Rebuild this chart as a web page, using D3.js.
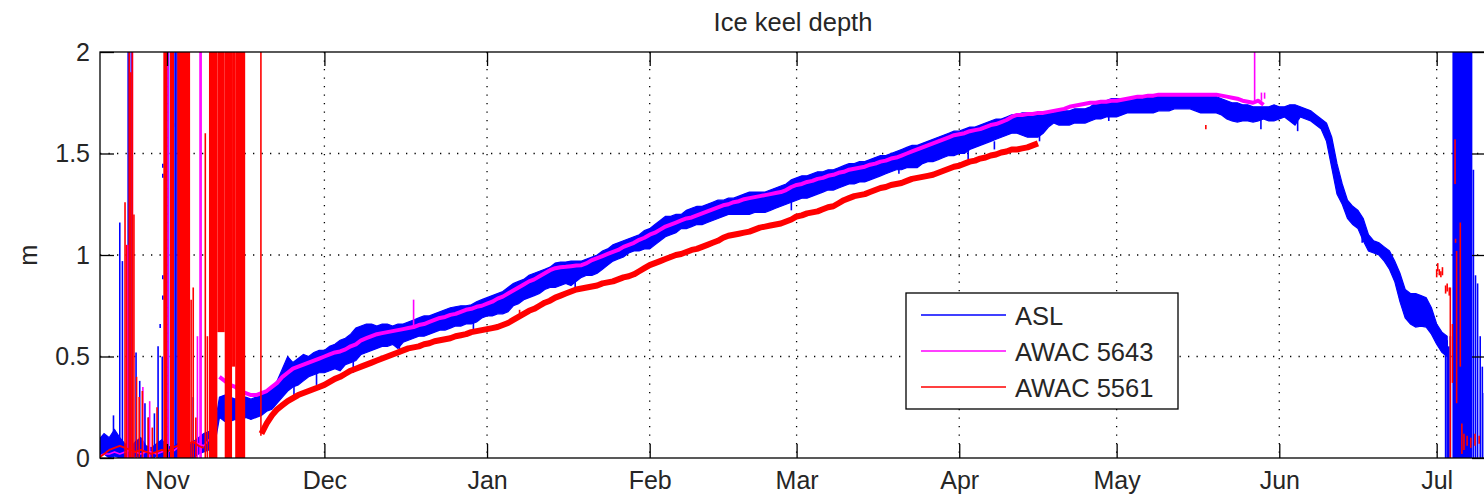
<!DOCTYPE html>
<html>
<head>
<meta charset="utf-8">
<script src="https://cdn.jsdelivr.net/npm/d3@7"></script>
<style>
  body { margin: 0; background: #fff; }
  text { font-family: "Liberation Sans", Arial, Helvetica, sans-serif; fill: #262626; }
</style>
</head>
<body>
<svg id="chart" width="1484" height="496"></svg>
<script>
// Day numbers count from 1 Nov 2010 (day 0). Daily arrays start at the day given beside them.
const viewStartDay = -12.77;
const viewEndDay = 251.4;

const monthTicks = ["2010-11-01", "2010-12-01", "2011-01-01", "2011-02-01", "2011-03-01",
                    "2011-04-01", "2011-05-01", "2011-06-01", "2011-07-01"];
const monthLabels = ["Nov", "Dec", "Jan", "Feb", "Mar", "Apr", "May", "Jun", "Jul"];
const depthTicks = [0, 0.5, 1, 1.5, 2];
const depthTickLabels = ["0", "0.5", "1", "1.5", "2"];
const seriesNames = ["ASL", "AWAC 5643", "AWAC 5561"];
const seriesColors = ["#0000ff", "#ff00ff", "#ff0000"];

// ASL: daily low / high of the keel depth (m), day -13 .. 244
const aslStart = -13;
const aslLo = [
  0.00,0.02,0.00,0.01,0.00,0.00,0.00,0.01,0.00,0.00,0.00,0.01,0.00,0.00,0.00,0.00,0.01,0.00,0.00,0.02,0.03,0.04,0.05,
  0.20,0.18,0.18,0.19,0.18,0.20,0.19,0.20,0.21,0.23,
  0.24,0.27,0.30,0.33,0.35,0.36,0.38,0.40,0.41,0.42,
  0.42,0.43,0.44,0.43,0.46,0.47,0.48,0.51,0.52,0.53,
  0.54,0.55,0.55,0.56,0.54,0.57,0.58,0.59,0.60,0.60,
  0.61,0.62,0.63,0.63,0.64,0.65,0.65,0.66,0.66,0.67,
  0.69,0.70,0.70,0.71,0.71,0.72,0.75,0.76,0.78,0.79,
  0.80,0.81,0.83,0.84,0.84,0.85,0.86,0.85,0.87,0.89,
  0.90,0.90,0.91,0.93,0.95,0.97,0.98,0.99,1.01,1.02,
  1.02,1.03,1.03,1.05,1.07,1.09,1.10,1.11,1.13,1.13,
  1.14,1.15,1.15,1.16,1.17,1.18,1.19,1.20,1.20,1.20,
  1.20,1.20,1.21,1.21,1.21,1.22,1.23,1.24,1.25,1.26,
  1.27,1.28,1.28,1.29,1.30,1.31,1.32,1.32,1.33,1.34,
  1.35,1.35,1.36,1.36,1.37,1.38,1.39,1.40,1.41,1.42,
  1.42,1.43,1.43,1.43,1.45,1.46,1.46,1.47,1.48,1.49,
  1.49,1.50,1.50,1.52,1.53,1.54,1.55,1.56,1.57,1.58,
  1.59,1.60,1.60,1.59,1.58,1.58,1.58,1.60,1.63,1.65,
  1.64,1.64,1.64,1.65,1.65,1.65,1.66,1.67,1.67,1.68,
  1.68,1.68,1.69,1.70,1.70,1.70,1.70,1.70,1.70,1.71,
  1.71,1.71,1.72,1.72,1.72,1.72,1.71,1.70,1.70,1.70,
  1.70,1.69,1.67,1.66,1.655,1.66,1.66,1.655,1.66,1.67,
  1.66,1.66,1.67,1.68,1.66,1.64,1.68,1.67,1.66,1.64,
  1.62,1.56,1.43,1.30,1.25,1.18,1.15,1.13,1.07,1.02,
  1.01,1.00,0.97,0.93,0.87,0.77,0.69,0.66,0.645,0.65,
  0.645,0.61,0.56,0.52,0.50
];
const aslHi = [
  0.09,0.12,0.10,0.14,0.10,0.07,0.05,0.08,0.10,0.06,0.05,0.07,0.09,0.06,0.05,0.07,0.09,0.06,0.08,0.10,0.12,0.13,0.14,
  0.30,0.31,0.30,0.29,0.30,0.30,0.29,0.30,0.31,0.33,
  0.35,0.38,0.44,0.50,0.47,0.49,0.51,0.50,0.52,0.53,
  0.53,0.55,0.56,0.58,0.59,0.61,0.64,0.65,0.66,0.66,
  0.65,0.66,0.66,0.65,0.66,0.66,0.67,0.68,0.69,0.70,
  0.70,0.71,0.72,0.73,0.74,0.745,0.75,0.75,0.755,0.77,
  0.78,0.79,0.80,0.81,0.82,0.84,0.86,0.87,0.88,0.90,
  0.91,0.92,0.93,0.94,0.96,0.965,0.965,0.97,0.97,0.97,
  0.98,0.99,1.00,1.02,1.03,1.05,1.06,1.07,1.08,1.09,
  1.10,1.12,1.13,1.15,1.17,1.19,1.19,1.20,1.20,1.22,
  1.23,1.24,1.24,1.25,1.26,1.27,1.27,1.28,1.28,1.29,
  1.30,1.31,1.31,1.31,1.31,1.32,1.33,1.34,1.35,1.37,
  1.38,1.39,1.39,1.40,1.41,1.41,1.42,1.42,1.43,1.44,
  1.45,1.45,1.46,1.46,1.47,1.48,1.49,1.49,1.50,1.51,
  1.52,1.53,1.54,1.54,1.55,1.56,1.57,1.58,1.59,1.60,
  1.61,1.61,1.62,1.63,1.63,1.64,1.65,1.66,1.67,1.67,
  1.68,1.69,1.69,1.70,1.70,1.70,1.70,1.70,1.70,1.70,
  1.71,1.71,1.71,1.72,1.72,1.72,1.73,1.75,1.76,1.76,
  1.77,1.77,1.77,1.77,1.77,1.78,1.78,1.79,1.79,1.79,
  1.79,1.79,1.79,1.79,1.79,1.79,1.79,1.79,1.79,1.78,
  1.78,1.77,1.76,1.75,1.75,1.74,1.74,1.73,1.73,1.73,
  1.73,1.74,1.73,1.73,1.74,1.74,1.73,1.72,1.71,1.69,
  1.67,1.65,1.58,1.45,1.35,1.27,1.24,1.22,1.18,1.10,
  1.07,1.06,1.04,1.02,0.97,0.91,0.83,0.81,0.81,0.80,
  0.79,0.74,0.66,0.62,0.60
];

// AWAC 5643: daily keel depth (m) while in open water, day -13 .. 9
const awac5643EarlyStart = -13;
const awac5643Early = [
  0.01,0.02,0.02,0.03,0.02,0.03,0.04,0.03,0.02,0.03,0.03,0.02,0.03,0.04,0.03,0.05,0.06,0.07,0.08,0.07,0.06,0.09,0.12
];
// AWAC 5643: daily keel depth (m) under ice, day 10 .. 209
const awac5643Start = 10;
const awac5643 = [
  0.40,0.38,0.36,0.35,0.33,0.32,0.31,0.31,0.32,0.33,
  0.35,0.37,0.40,0.42,0.44,0.45,0.46,0.47,0.48,0.49,
  0.50,0.51,0.52,0.525,0.535,0.55,0.56,0.58,0.59,0.60,
  0.61,0.615,0.62,0.625,0.63,0.635,0.64,0.645,0.655,0.66,
  0.67,0.68,0.69,0.695,0.705,0.71,0.72,0.73,0.735,0.745,
  0.75,0.76,0.77,0.785,0.795,0.81,0.825,0.84,0.855,0.87,
  0.88,0.895,0.91,0.925,0.935,0.94,0.942,0.945,0.948,0.95,
  0.96,0.975,0.985,0.995,1.005,1.015,1.025,1.04,1.05,1.06,
  1.075,1.085,1.10,1.11,1.125,1.14,1.15,1.16,1.17,1.18,
  1.185,1.195,1.205,1.215,1.225,1.235,1.245,1.25,1.26,1.265,
  1.275,1.28,1.285,1.29,1.295,1.30,1.305,1.31,1.32,1.335,
  1.345,1.35,1.36,1.365,1.375,1.38,1.39,1.395,1.405,1.41,
  1.42,1.425,1.43,1.435,1.445,1.45,1.46,1.465,1.475,1.48,
  1.49,1.50,1.51,1.52,1.53,1.54,1.55,1.56,1.57,1.58,
  1.59,1.595,1.60,1.61,1.615,1.62,1.63,1.64,1.645,1.655,
  1.665,1.68,1.69,1.69,1.695,1.695,1.70,1.70,1.705,1.71,
  1.715,1.72,1.73,1.735,1.74,1.745,1.75,1.75,1.755,1.755,
  1.76,1.76,1.765,1.77,1.775,1.78,1.78,1.785,1.785,1.79,
  1.79,1.79,1.79,1.79,1.79,1.79,1.79,1.79,1.79,1.79,
  1.79,1.785,1.78,1.775,1.77,1.76,1.755,1.75,1.76,1.74
];

// AWAC 5561: daily keel depth (m) while in open water, day -13 .. 7
const awac5561EarlyStart = -13;
const awac5561Early = [
  0.00,0.02,0.04,0.05,0.06,0.05,0.04,0.03,0.04,0.03,0.02,0.03,0.04,0.03,0.05,0.06,0.05,0.07,0.08,0.06,0.05
];
// AWAC 5561: daily keel depth (m) under ice, day 18 .. 166
const awac5561Start = 18;
const awac5561 = [
  0.12,0.17,
  0.21,0.24,0.26,0.28,0.295,0.31,0.32,0.33,0.34,0.35,
  0.36,0.375,0.39,0.40,0.415,0.43,0.44,0.45,0.46,0.47,
  0.48,0.49,0.50,0.51,0.52,0.53,0.54,0.545,0.55,0.56,
  0.565,0.575,0.58,0.585,0.59,0.60,0.605,0.61,0.62,0.625,
  0.63,0.635,0.64,0.645,0.655,0.665,0.68,0.695,0.71,0.725,
  0.735,0.75,0.765,0.775,0.79,0.80,0.81,0.82,0.83,0.835,
  0.84,0.845,0.85,0.86,0.865,0.87,0.88,0.89,0.895,0.905,
  0.92,0.935,0.95,0.96,0.97,0.98,0.99,1.00,1.005,1.015,
  1.025,1.03,1.04,1.05,1.06,1.07,1.085,1.095,1.10,1.105,
  1.11,1.115,1.125,1.135,1.14,1.145,1.15,1.155,1.165,1.175,
  1.19,1.195,1.205,1.21,1.215,1.225,1.235,1.24,1.255,1.27,
  1.28,1.29,1.295,1.30,1.31,1.32,1.33,1.335,1.345,1.35,
  1.355,1.365,1.375,1.38,1.385,1.39,1.395,1.405,1.415,1.425,
  1.435,1.44,1.45,1.46,1.465,1.475,1.48,1.49,1.495,1.505,
  1.51,1.52,1.52,1.525,1.53,1.54,1.55
];

// Isolated excursions: [day, low, high]
const aslSpikes = [
  [-10.2,0,0.21],[-9.0,0,1.16],[-8.5,0,0.97],[-7.4,0,2.1],[-7.1,0,2.1],[-6.7,0,2.1],
  [-5.9,0,0.52],[-5.2,0,0.38],[-4.2,0,0.27],[-3.5,0,0.2],[-2.4,0,0.22],[-1.7,0,0.55],
  [-0.9,0,0.5],[-0.3,0,2.1],[0.0,0,2.1],[0.3,0,2.1],[1.3,0,2.1],[1.6,0,2.1],[1.9,0,2.1],
  [2.4,0,2.1],[3.7,0,0.48],[5.0,0,0.3],
  [-0.8,1.43,1.45],[-0.8,1.38,1.40],[-0.8,0.88,0.90],[-0.8,0.78,0.80],[-1.3,0.64,0.66],[1.2,1.63,1.65],
  [24.2,0.30,0.40],[28.5,0.36,0.45],[35.5,0.42,0.5],[44.3,0.51,0.58],[58.4,0.62,0.68],
  [77.8,0.83,0.88],[119.0,1.22,1.28],[139.5,1.40,1.45],[152.7,1.47,1.52],[157.7,1.52,1.56],
  [166.3,1.56,1.6],[179.5,1.66,1.7],[208.5,1.62,1.68],[215.5,1.61,1.66],[227.8,1.06,1.12],
  [243.7,0,0.6],[244.0,0,0.58],[244.3,0,0.55],[244.6,0,0.6],
  [249.0,0,1.42],[249.4,0,0.9],[249.8,0,0.86],[250.3,0,0.6],[250.7,0,0.45],[251.1,0,0.32]
];
const awac5643Spikes = [
  [-7.5,0,1.05],[-7.0,0,1.9],[-6.6,0,2.1],[-4.6,0,0.35],[-3.3,0,0.28],[0.2,0,2.1],
  [5.8,0,0.6],[6.3,0,2.1],[6.5,0,2.1],[8.3,0,0.45],[47.0,0.64,0.78],[207.3,1.75,2.1],
  [208.6,1.76,1.8],[209.2,1.77,1.8]
];
const awac5561Spikes = [
  [-8.0,0,1.26],[-7.7,0,1.05],[-7.2,0,2.1],[-6.9,0,1.9],[-6.6,0,2.1],[-6.3,0,1.2],
  [-5.8,0,0.4],[-5.3,0,0.3],[-4.7,0,0.33],[-3.6,0,0.2],[-2.8,0,0.15],[-1.9,0,0.25],
  [4.6,0,0.78],[5.0,0,0.84],[5.5,0,0.2],[7.3,0,1.6],[7.7,0,0.6],
  [17.9,0.11,2.1],[67.2,0.69,0.73],[198.0,1.62,1.64],
  [242.0,0.89,0.93],[242.2,0.92,0.96],[242.5,0.90,0.93],[242.8,0.89,0.92],[243.1,0.90,0.94],
  [243.7,0.81,0.85],[244.0,0.82,0.86],[244.4,0.80,0.84],[244.6,0,0.84],[245.0,0.37,0.66],
  [245.5,1.35,1.57],[245.6,1.06,1.08],[245.8,0.27,1.02],[246.5,0.45,1.16],[246.8,0.02,0.17],
  [247.2,0.04,0.12],[247.8,0.06,0.11],[248.5,0.05,0.10],[249.3,0.06,0.12],[250.1,0.07,0.11]
];

// Saturated stretches: [first day, last day, low, high]
const aslBlocks = [[245.0,248.8,0,2.1]];
const awac5561Blocks = [
  [-0.7,0.05,0,2.1],[0.57,1.33,0,2.1],[1.96,4.4,0,2.1],
  [8.0,9.6,0,2.1],[9.6,11.0,0.62,2.1],[11.0,12.4,0,2.1],[12.4,13.0,0.45,2.1],[13.0,14.9,0,2.1]
];

// ---------------------------------------------------------------------------
const plot = { left: 100, right: 1486, top: 52, bottom: 458 };
const origin = Date.UTC(2010, 10, 1);
const dayDate = d => new Date(origin + d * 864e5);
const parseDay = d3.utcParse("%Y-%m-%d");

const x = d3.scaleUtc().domain([dayDate(viewStartDay), dayDate(viewEndDay)]).range([plot.left, plot.right]);
const y = d3.scaleLinear().domain([0, 2]).range([plot.bottom, plot.top]);

const svg = d3.select("#chart");
const font = "Liberation Sans, Arial, Helvetica, sans-serif";

svg.append("defs").append("clipPath").attr("id", "plotClip")
  .append("rect")
  .attr("x", plot.left).attr("y", plot.top)
  .attr("width", plot.right - plot.left).attr("height", plot.bottom - plot.top);

// dotted grid
const monthDates = monthTicks.map(parseDay);
const grid = svg.append("g").attr("stroke", "#000").attr("stroke-width", 1.3)
  .attr("stroke-dasharray", "1.3 7.2");
grid.selectAll("line.v").data(monthDates).join("line")
  .attr("x1", d => x(d)).attr("x2", d => x(d))
  .attr("y1", plot.top).attr("y2", plot.bottom);
grid.selectAll("line.h").data(depthTicks.filter(v => v > 0 && v < 2)).join("line")
  .attr("x1", plot.left).attr("x2", plot.right)
  .attr("y1", d => y(d)).attr("y2", d => y(d));

const data = svg.append("g").attr("clip-path", "url(#plotClip)");

function drawSpikes(g, spikes, color, width) {
  g.selectAll(null).data(spikes).join("line")
    .attr("x1", d => x(dayDate(d[0]))).attr("x2", d => x(dayDate(d[0])))
    .attr("y1", d => y(d[1])).attr("y2", d => y(d[2]))
    .attr("stroke", color).attr("stroke-width", width);
}
function drawBlocks(g, blocks, color) {
  g.selectAll(null).data(blocks).join("rect")
    .attr("x", d => x(dayDate(d[0])))
    .attr("width", d => x(dayDate(d[1])) - x(dayDate(d[0])))
    .attr("y", d => y(d[3]))
    .attr("height", d => y(d[2]) - y(d[3]))
    .attr("fill", color);
}
function drawTrace(g, values, start, color, width) {
  g.append("path").datum(values.map((v, i) => ({ d: start + i, v })))
    .attr("d", d3.line().x(p => x(dayDate(p.d))).y(p => y(p.v)))
    .attr("fill", "none").attr("stroke", color).attr("stroke-width", width)
    .attr("stroke-linejoin", "round");
}

// ASL band
const aslPts = aslLo.map((lo, i) => ({ d: aslStart + i, lo, hi: aslHi[i] }));
const gAsl = data.append("g");
gAsl.append("path").datum(aslPts)
  .attr("d", d3.area().x(p => x(dayDate(p.d))).y0(p => y(p.lo)).y1(p => y(p.hi)))
  .attr("fill", seriesColors[0]).attr("stroke", seriesColors[0]).attr("stroke-width", 1.2);
drawSpikes(gAsl, aslSpikes, seriesColors[0], 1.6);
drawBlocks(gAsl, aslBlocks, seriesColors[0]);

// AWAC 5643
const gA1 = data.append("g");
drawTrace(gA1, awac5643Early, awac5643EarlyStart, seriesColors[1], 1.6);
drawTrace(gA1, awac5643, awac5643Start, seriesColors[1], 4);
drawSpikes(gA1, awac5643Spikes, seriesColors[1], 1.6);

// AWAC 5561
const gA2 = data.append("g");
drawTrace(gA2, awac5561Early, awac5561EarlyStart, seriesColors[2], 1.8);
drawTrace(gA2, awac5561, awac5561Start, seriesColors[2], 6);
drawSpikes(gA2, awac5561Spikes, seriesColors[2], 1.6);
drawBlocks(gA2, awac5561Blocks, seriesColors[2]);

// axes with inward ticks
const tickLen = 14;
const xBottom = d3.axisBottom(x).tickValues(monthDates)
  .tickFormat((d, i) => monthLabels[i]).tickSizeInner(-tickLen).tickSizeOuter(0).tickPadding(13);
const xTop = d3.axisTop(x).tickValues(monthDates).tickFormat("")
  .tickSizeInner(-tickLen).tickSizeOuter(0);
const yLeft = d3.axisLeft(y).tickValues(depthTicks)
  .tickFormat((d, i) => depthTickLabels[i]).tickSizeInner(-tickLen).tickSizeOuter(0).tickPadding(10);
const yRight = d3.axisRight(y).tickValues(depthTicks).tickFormat("")
  .tickSizeInner(-tickLen).tickSizeOuter(0);

function styleAxis(g) {
  g.select(".domain").remove();
  g.selectAll("line").attr("stroke", "#000").attr("stroke-width", 1.3);
  g.selectAll("text").attr("font-family", font).attr("font-size", 25).attr("fill", "#262626");
}
svg.append("g").attr("transform", `translate(0,${plot.bottom})`).call(xBottom).call(styleAxis);
svg.append("g").attr("transform", `translate(0,${plot.top})`).call(xTop).call(styleAxis);
svg.append("g").attr("transform", `translate(${plot.left},0)`).call(yLeft).call(styleAxis);
svg.append("g").attr("transform", `translate(${plot.right},0)`).call(yRight).call(styleAxis);

// frame
svg.append("rect")
  .attr("x", plot.left).attr("y", plot.top)
  .attr("width", plot.right - plot.left).attr("height", plot.bottom - plot.top)
  .attr("fill", "none").attr("stroke", "#000").attr("stroke-width", 1.3);

// title and axis label
svg.append("text").attr("x", (plot.left + plot.right) / 2).attr("y", 31)
  .attr("text-anchor", "middle").attr("font-size", 25.5).attr("font-family", font)
  .text("Ice keel depth");
svg.append("text").attr("transform", `translate(37,${(plot.top + plot.bottom) / 2}) rotate(-90)`)
  .attr("text-anchor", "middle").attr("font-size", 25.5).attr("font-family", font)
  .text("m");

// legend
const legend = svg.append("g").attr("transform", "translate(906,293)");
legend.append("rect").attr("width", 272).attr("height", 116)
  .attr("fill", "#fff").attr("stroke", "#000").attr("stroke-width", 1.3);
const rows = legend.selectAll("g.row").data(seriesNames).join("g")
  .attr("transform", (d, i) => `translate(0,${22 + i * 36})`);
rows.append("line").attr("x1", 15).attr("x2", 100).attr("y1", 0).attr("y2", 0)
  .attr("stroke", (d, i) => seriesColors[i]).attr("stroke-width", 1.5);
rows.append("text").attr("x", 109).attr("y", 10)
  .attr("font-size", 25.5).attr("font-family", font).text(d => d);
</script>
</body>
</html>
